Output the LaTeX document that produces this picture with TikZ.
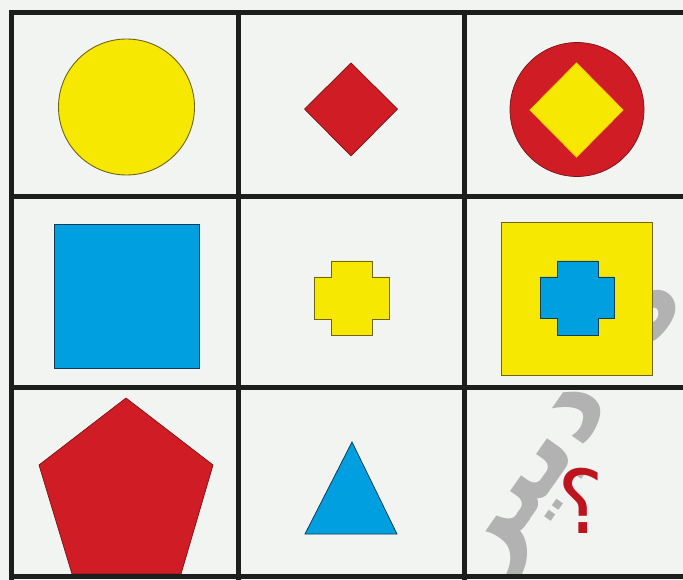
\documentclass[tikz,border=0pt]{standalone}
\usepackage{fontspec}
\newfontfamily\arabicfont[Script=Arabic]{DejaVu Sans}
\TeXXeTstate=1
\definecolor{bgc}{RGB}{242,244,242}
\definecolor{gridc}{RGB}{28,30,28}
\definecolor{yel}{RGB}{246,232,0}
\definecolor{yelline}{RGB}{110,100,20}
\definecolor{redf}{RGB}{208,28,36}
\definecolor{redline}{RGB}{120,20,20}
\definecolor{bluef}{RGB}{0,160,224}
\definecolor{blueline}{RGB}{20,60,90}
\definecolor{wmark}{RGB}{178,178,178}
\definecolor{qred}{RGB}{190,20,30}
\begin{document}
\begin{tikzpicture}[x=1pt,y=-1pt,
  gridline/.style={draw=gridc,line width=5pt},
  yshape/.style={fill=yel,draw=yelline,line width=0.9pt},
  rshape/.style={fill=redf,draw=redline,line width=0.7pt},
  bshape/.style={fill=bluef,draw=blueline,line width=0.8pt},
  wmtext/.style={text=wmark,font=\arabicfont\bfseries\fontsize{110}{110}\selectfont,inner sep=0pt},
  qmark/.style={text=qred,font=\arabicfont\fontsize{88}{88}\selectfont,inner sep=0pt}]
\useasboundingbox (0,0) rectangle (683,580);
\fill[bgc] (0,0) rectangle (683,580);
% watermark
\begin{scope}
\clip (466,200) rectangle (683,573);
\node[wmtext,rotate=55] (wm) at (580,432) {\beginR ه\hspace{25pt} دبیر\endR};
\end{scope}
% row 1
\draw[yshape] (126.5,107) circle (68);
\draw[rshape] (351,63) -- (397.5,109) -- (351,156) -- (304.5,109) -- cycle;
\draw[rshape] (577,109.5) circle (67);
\draw[yshape,draw=yel!80!orange] (576.5,63) -- (623,110) -- (576.5,157) -- (530,110) -- cycle;
% row 2
\draw[bshape] (54,224) rectangle (199,368);
\draw[yshape] (331,261) -- (372,261) -- (372,277) -- (389,277) -- (389,319) -- (372,319) -- (372,335) -- (331,335) -- (331,319) -- (314,319) -- (314,277) -- (331,277) -- cycle;
\draw[yshape] (501,222) rectangle (652,375);
\draw[bshape] (557,261) -- (598,261) -- (598,277) -- (614,277) -- (614,318) -- (598,318) -- (598,335) -- (557,335) -- (557,318) -- (540,318) -- (540,277) -- (557,277) -- cycle;
% row 3
\draw[rshape] (126,398) -- (213,465) -- (181,574) -- (72,574) -- (39,465) -- cycle;
\draw[bshape] (352,442) -- (397,534) -- (305,534) -- cycle;
\node[qmark] (q) at (581,501) {\beginR ؟\endR};
% grid
\draw[gridline] (11,13) -- (683,13);
\draw[gridline] (11,197) -- (683,197);
\draw[gridline] (11,387) -- (683,387);
\draw[gridline] (11,576) -- (683,576);
\draw[gridline] (11,10.5) -- (11,580);
\draw[gridline] (238,10.5) -- (238,580);
\draw[gridline] (464,10.5) -- (464,580);
\end{tikzpicture}
\end{document}
